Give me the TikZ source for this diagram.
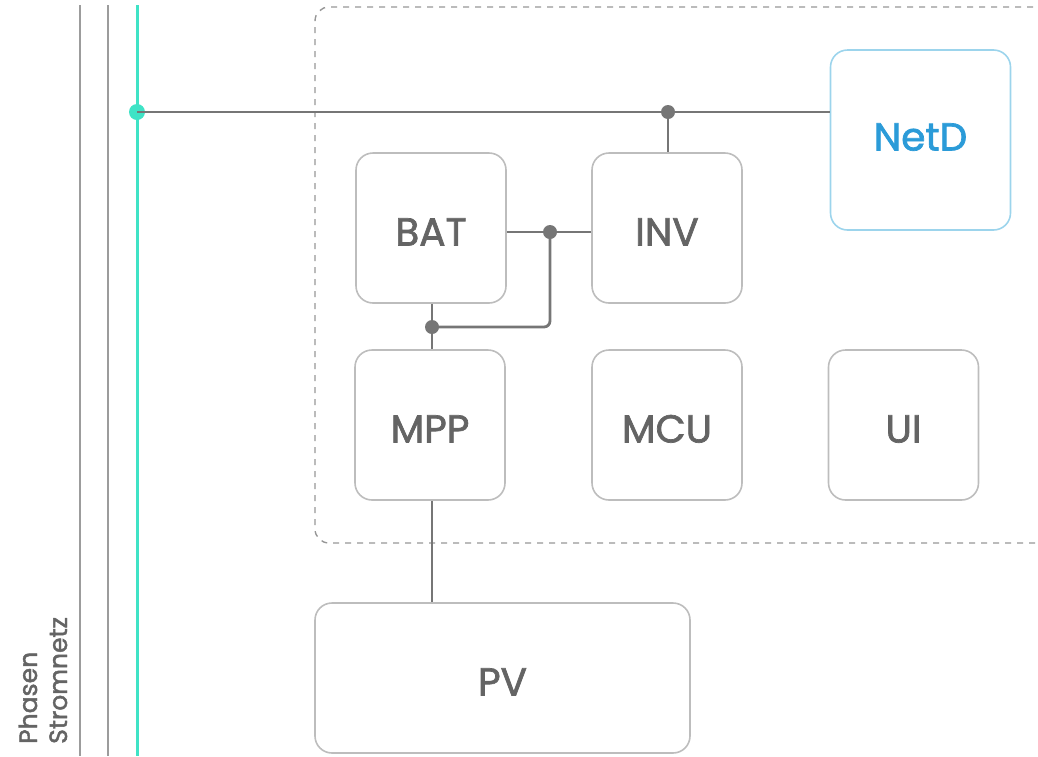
\documentclass[tikz,border=0pt]{standalone}
\usepackage{fontspec}
\setmainfont{Poppins}
\newfontfamily\medfont{Poppins}[FakeBold=1.8]
\definecolor{boxline}{HTML}{BDBDBD}
\definecolor{wire}{HTML}{767676}
\definecolor{txt}{HTML}{646464}
\definecolor{teal}{HTML}{3FE3C6}
\definecolor{netline}{HTML}{9CD4EC}
\definecolor{nettxt}{HTML}{2B9BD8}
\definecolor{rail}{HTML}{9C9C9C}
\tikzset{
  blk/.style={draw=boxline, line width=1.6pt, rounded corners=17pt, minimum width=#1, inner sep=0pt, text=txt, text height=35pt, text depth=0pt, font=\medfont\fontsize{39}{44}\selectfont},
  blk/.default=150pt,
  wireline/.style={draw=wire, line width=2.8pt},
  jdot/.style={circle, fill=wire, inner sep=0pt, minimum size=14pt},
  lbl/.style={rotate=90, anchor=base west, text=txt, font=\medfont\fontsize{25}{29}\selectfont, inner sep=0pt},
}
\begin{document}
\begin{tikzpicture}[x=1pt,y=-1pt]
\useasboundingbox (0,0) rectangle (1038,756);
% rails
\draw[rail, line width=2.8pt] (80,5) -- (80,756);
\draw[rail, line width=2.8pt] (108,5) -- (108,756);
\draw[teal, line width=3pt] (137,5) -- (137,756);
% label
\node[lbl] (lab1) at (37,744) {Phasen};
\node[lbl] (lab2) at (67,744) {Stromnetz};
% dashed frame
\draw[boxline!80!black, line width=1.4pt, dash pattern=on 6pt off 6pt, rounded corners=14pt] (1045,7) -- (315,7) -- (315,543) -- (1045,543);
% boxes
\node[blk, minimum height=150pt] (bat) at (431,228) {BAT};
\node[blk, minimum height=150pt] (inv) at (667,228) {INV};
\node[blk=180pt, minimum height=180pt, draw=netline, text=nettxt, text height=21pt] (netd) at (920.5,140) {NetD};
\node[blk, minimum height=150pt] (mpp) at (430,425) {MPP};
\node[blk, minimum height=150pt] (mcu) at (667,425) {MCU};
\node[blk, minimum height=150pt] (ui) at (903.5,425) {UI};
\node[blk=375pt, minimum height=150pt] (pv) at (502.5,678) {PV};
% junctions
\node[circle, fill=teal, inner sep=0pt, minimum size=16pt] (tj) at (137,112) {};
\node[jdot] (j1) at (668,112) {};
\node[jdot] (j2) at (550,232) {};
\node[jdot] (j3) at (432,327) {};
% wires
\draw[wireline] (tj.center) -- (netd.west |- tj);
\draw[wireline] (j1.center) -- (j1 |- inv.north);
\draw[wireline] (bat.east |- j2) -- (inv.west |- j2);
\draw[wireline, rounded corners=6pt] (j2.center) -- (j2 |- j3) -- (j3.center);
\draw[wireline] (j3 |- bat.south) -- (j3 |- mpp.north);
\draw[wireline] (j3 |- mpp.south) -- (j3 |- pv.north);
\end{tikzpicture}
\end{document}
